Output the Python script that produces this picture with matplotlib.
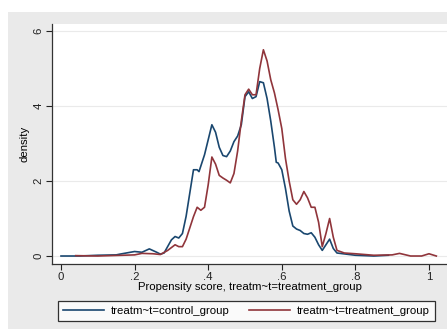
import matplotlib
matplotlib.use('Agg')
import matplotlib.pyplot as plt
from matplotlib.patches import Rectangle

plt.rcParams['font.family'] = ['Liberation Sans', 'DejaVu Sans']

# control group density
x_ctrl = [0.0, 0.05, 0.10, 0.15, 0.16, 0.20, 0.22, 0.24, 0.26, 0.27, 0.28, 0.30, 0.31, 0.32,
          0.33, 0.34, 0.35, 0.36, 0.37, 0.375, 0.38, 0.39, 0.40, 0.41, 0.42, 0.43, 0.44, 0.45,
          0.46, 0.47, 0.48, 0.49, 0.50, 0.51, 0.52, 0.53, 0.54, 0.55, 0.56, 0.57, 0.58, 0.585,
          0.59, 0.60, 0.61, 0.62, 0.63, 0.64, 0.65, 0.66, 0.67, 0.68, 0.69, 0.70, 0.71, 0.72,
          0.73, 0.74, 0.75, 0.80, 0.85, 0.89]
y_ctrl = [0.0, 0.0, 0.02, 0.03, 0.05, 0.12, 0.10, 0.19, 0.10, 0.05, 0.08, 0.43, 0.52, 0.48,
          0.60, 1.06, 1.68, 2.30, 2.30, 2.25, 2.40, 2.70, 3.10, 3.50, 3.30, 2.90, 2.68, 2.65,
          2.80, 3.05, 3.20, 3.50, 4.25, 4.38, 4.20, 4.25, 4.65, 4.62, 4.20, 3.60, 2.90, 2.50,
          2.48, 2.30, 1.80, 1.20, 0.80, 0.72, 0.68, 0.60, 0.58, 0.62, 0.50, 0.30, 0.15, 0.30,
          0.45, 0.20, 0.08, 0.02, 0.0, 0.02]

# treatment group density
x_trt = [0.04, 0.10, 0.20, 0.22, 0.25, 0.27, 0.29, 0.31, 0.32, 0.33, 0.34, 0.35, 0.36, 0.37,
         0.38, 0.39, 0.40, 0.41, 0.42, 0.43, 0.44, 0.45, 0.46, 0.47, 0.48, 0.49, 0.50, 0.51,
         0.52, 0.53, 0.54, 0.55, 0.56, 0.57, 0.58, 0.59, 0.60, 0.61, 0.62, 0.63, 0.64, 0.65,
         0.66, 0.67, 0.68, 0.69, 0.70, 0.71, 0.72, 0.73, 0.74, 0.75, 0.77, 0.80, 0.85, 0.90,
         0.92, 0.95, 0.98, 1.00, 1.02]
y_trt = [0.01, 0.0, 0.03, 0.07, 0.06, 0.04, 0.15, 0.30, 0.25, 0.25, 0.45, 0.75, 1.05, 1.30,
         1.22, 1.30, 1.90, 2.64, 2.45, 2.15, 2.08, 2.02, 1.95, 2.20, 2.80, 3.60, 4.30, 4.45,
         4.30, 4.30, 5.00, 5.50, 5.20, 4.70, 4.35, 3.90, 3.40, 2.60, 2.00, 1.50, 1.38, 1.50,
         1.72, 1.55, 1.30, 1.30, 0.90, 0.25, 0.60, 1.00, 0.50, 0.15, 0.08, 0.06, 0.02, 0.03,
         0.07, 0.0, 0.0, 0.06, 0.0]

xticks = [0, 0.2, 0.4, 0.6, 0.8, 1.0]
xtick_labels = ['0', '.2', '.4', '.6', '.8', '1']
yticks = [0, 2, 4, 6]

fs = 8.2
W, H = 447, 329
fig = plt.figure(figsize=(W / 100, H / 100), dpi=100)
fig.patch.set_facecolor('white')
fig.patches.append(Rectangle((8 / W, 0), 1, (H - 12) / H, transform=fig.transFigure,
                             facecolor='#eaeaea', edgecolor='none', zorder=-10))

ax = fig.add_axes([52 / W, (H - 264) / H, 1 - 52 / W, 240 / H])
ax.set_facecolor('white')
ax.plot(x_ctrl, y_ctrl, color='#1a476f', lw=1.2, label='treatm~t=control_group')
ax.plot(x_trt, y_trt, color='#90353b', lw=1.2, label='treatm~t=treatment_group')

ax.set_xlim(-0.0245, 1.049)
ax.set_ylim(-0.213, 6.187)
ax.set_xticks(xticks)
ax.set_xticklabels(xtick_labels)
ax.set_yticks(yticks)
ax.set_yticklabels([str(v) for v in yticks], rotation=90, va='center')
ax.grid(axis='y', color='#eaeaea', lw=0.8)
ax.set_axisbelow(True)
for s in ['top', 'right']:
    ax.spines[s].set_visible(False)
for s in ['left', 'bottom']:
    ax.spines[s].set_color('#333333')
    ax.spines[s].set_linewidth(0.9)
ax.tick_params(labelsize=fs, length=4, width=0.8, colors='#222222', pad=2)
ax.set_xlabel('Propensity score, treatm~t=treatment_group', fontsize=fs, labelpad=0)
ax.set_ylabel('density', fontsize=fs, labelpad=3)

leg = fig.legend(loc='center', bbox_to_anchor=(246.5 / W, (H - 311) / H),
                 ncol=2, fontsize=fs, frameon=True, fancybox=False,
                 handlelength=3.6, handletextpad=0.6, borderpad=0.45,
                 borderaxespad=0, columnspacing=1.7)
leg.get_frame().set_edgecolor('black')
leg.get_frame().set_linewidth(0.9)

plt.savefig('out.png', dpi=100)
